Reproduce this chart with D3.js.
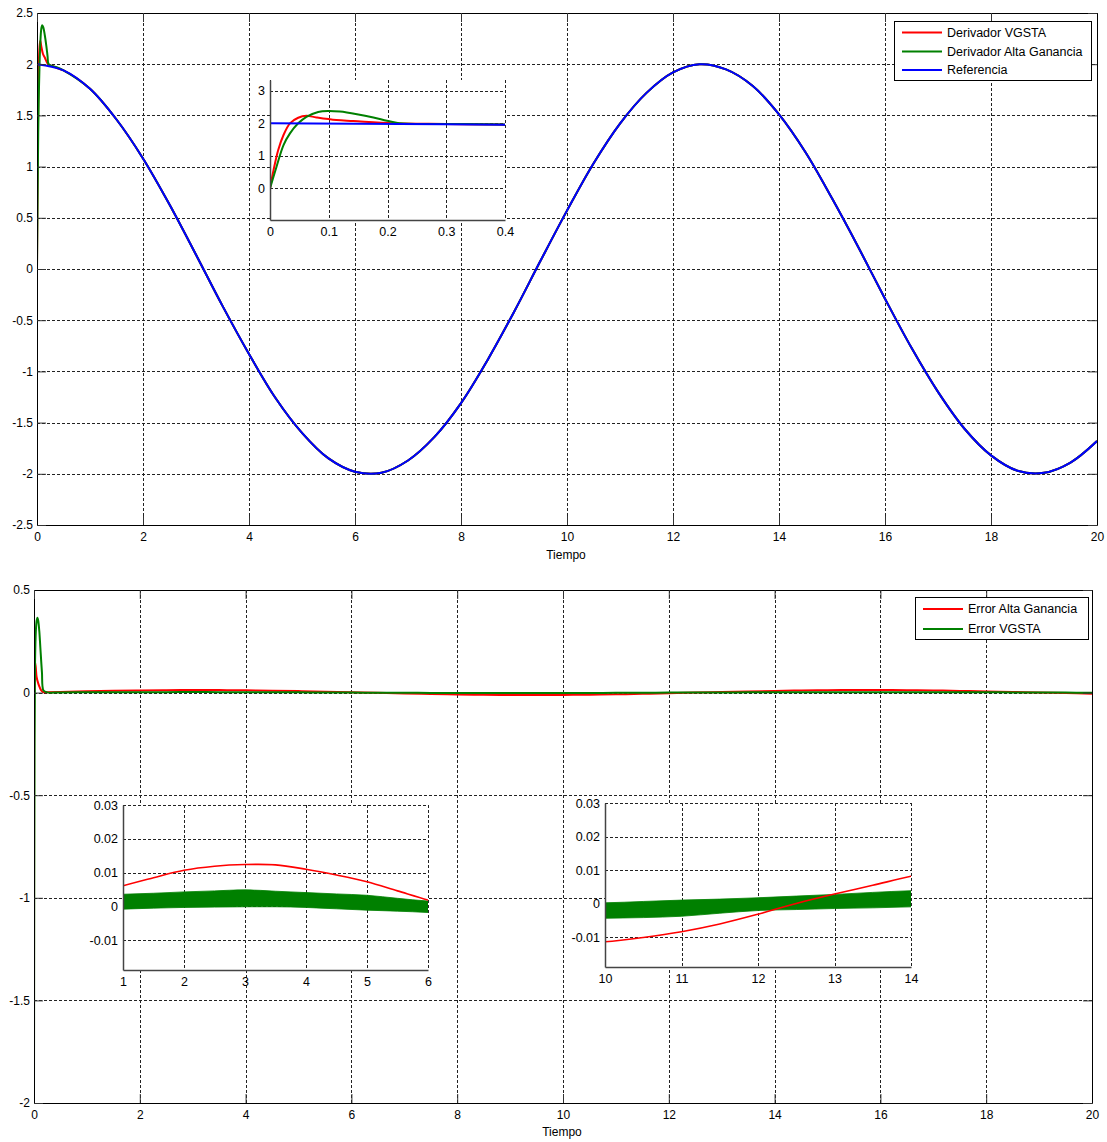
<!DOCTYPE html>
<html>
<head>
<meta charset="utf-8">
<script src="https://cdn.jsdelivr.net/npm/d3@7"></script>
<style>
  body { margin: 0; background: #fff; }
  svg { display: block; font-family: "Liberation Sans", Arial, sans-serif; }
</style>
</head>
<body>
<svg id="chart" width="1107" height="1142"></svg>
<script>
// ---------------- datos ----------------
// senal de referencia, cada 0.5 s
const tRef = d3.range(0, 20.001, 0.5);
const referencia = [2.00, 1.94, 1.76, 1.46, 1.08, 0.63, 0.14, -0.36, -0.83, -1.26, -1.60,
  -1.85, -1.98, -1.99, -1.87, -1.64, -1.31, -0.89, -0.42, 0.08, 0.57, 1.03, 1.42, 1.72,
  1.92, 2.00, 1.95, 1.79, 1.51, 1.14, 0.69, 0.21, -0.29, -0.77, -1.20, -1.56, -1.82,
  -1.97, -1.99, -1.89, -1.68];

// transitorios al inicio (0 - 0.4 s)
const tVgsta = [0, 0.006, 0.014, 0.023, 0.034, 0.048, 0.062, 0.079, 0.113, 0.142, 0.21, 0.3, 0.39];
const vgstaTrans = [0, 0.56, 1.18, 1.64, 2.0, 2.17, 2.23, 2.18, 2.10, 2.07, 2.0, 1.98, 1.96];
const tAlta = [0, 0.011, 0.023, 0.034, 0.048, 0.062, 0.082, 0.099, 0.119, 0.148, 0.176, 0.199, 0.22, 0.3, 0.37];
const altaTrans = [0, 0.66, 1.33, 1.69, 2.0, 2.2, 2.35, 2.38, 2.36, 2.28, 2.18, 2.08, 2.0, 1.98, 1.97];

// errores, cada 0.5 s desde 0.5
const tErr = d3.range(0.5, 20.001, 0.5);
const errAlta = [0.0030, 0.0061, 0.0085, 0.0107, 0.0119, 0.0124, 0.0123, 0.0110, 0.0093, 0.0073,
  0.0046, 0.0019, -0.0010, -0.0040, -0.0066, -0.0088, -0.0105, -0.0116, -0.0118, -0.0113,
  -0.0100, -0.0083, -0.0060, -0.0031, 0.0001, 0.0029, 0.0055, 0.0082, 0.0102, 0.0116,
  0.0123, 0.0124, 0.0117, 0.0103, 0.0083, 0.0058, 0.0031, 0.0004, -0.0024, -0.0050];
const errVgsta = [0.0010, 0.0014, 0.0017, 0.0020, 0.0022, 0.0024, 0.0022, 0.0019, 0.0015, 0.0011,
  0.0005, -0.0001, -0.0006, -0.0011, -0.0015, -0.0018, -0.0020, -0.0021, -0.0021, -0.0020,
  -0.0017, -0.0013, -0.0007, -0.0001, 0.0003, 0.0007, 0.0011, 0.0015, 0.0018, 0.0020,
  0.0022, 0.0023, 0.0022, 0.0020, 0.0017, 0.0013, 0.0009, 0.0004, -0.0001, -0.0006];
// media amplitud del chattering
const bandaVgsta = [0.0021, 0.0022, 0.0022, 0.0023, 0.0024, 0.0025, 0.0023, 0.0022, 0.0022, 0.0022,
  0.0019, 0.0017, 0.0019, 0.0021, 0.0022, 0.0022, 0.0023, 0.0023, 0.0023, 0.0023,
  0.0024, 0.0024, 0.0021, 0.0019, 0.0020, 0.0021, 0.0023, 0.0024, 0.0023, 0.0022,
  0.0022, 0.0022, 0.0022, 0.0022, 0.0022, 0.0022, 0.0022, 0.0022, 0.0022, 0.0022];

const tErrAltaTrans = [0, 0.002, 0.005, 0.01, 0.03, 0.05, 0.08, 0.11, 0.14, 0.18, 0.25];
const errAltaTrans = [-2, -0.6, 0.1, 0.155, 0.13, 0.075, 0.045, 0.024, 0.01, 0.002, 0.002];
const tErrVgstaTrans = [0, 0.004, 0.01, 0.02, 0.035, 0.05, 0.065, 0.08, 0.1, 0.12, 0.15, 0.18, 0.25];
const errVgstaTrans = [-2, -1.0, -0.3, 0.15, 0.3, 0.35, 0.365, 0.35, 0.3, 0.22, 0.1, 0.01, 0.001];

// ticks
const xTicksMain = d3.range(0, 20.001, 2);
const xLabelsMain = xTicksMain.map(String);
const yTicksTop = [-2.5, -2, -1.5, -1, -0.5, 0, 0.5, 1, 1.5, 2, 2.5];
const yLabelsTop = ["-2.5", "-2", "-1.5", "-1", "-0.5", "0", "0.5", "1", "1.5", "2", "2.5"];
const yTicksBot = [-2, -1.5, -1, -0.5, 0, 0.5];
const yLabelsBot = ["-2", "-1.5", "-1", "-0.5", "0", "0.5"];
const xTicksIns = [0, 0.1, 0.2, 0.3, 0.4];
const xLabelsIns = ["0", "0.1", "0.2", "0.3", "0.4"];
const yTicksIns = [0, 1, 2, 3];
const yLabelsIns = ["0", "1", "2", "3"];
const xTicksIns1 = [1, 2, 3, 4, 5, 6];
const xTicksIns2 = [10, 11, 12, 13, 14];
const yTicksErr = [-0.01, 0, 0.01, 0.02, 0.03];
const yLabelsErr = ["-0.01", "0", "0.01", "0.02", "0.03"];

const ROJO = "#ff0000", VERDE = "#008000", AZUL = "#0000ff";

// ---------------- helpers ----------------
const svg = d3.select("#chart");
let nClip = 0;
const curva = d3.curveCatmullRom.alpha(0.5);

function zipT(t, v) { return t.map((d, i) => [d, v[i]]); }

function ejes(o) {
  const x = d3.scaleLinear().domain(o.xDomain).range([o.left, o.right]);
  const y = d3.scaleLinear().domain(o.yDomain).range([o.bottom, o.top]);
  const g = svg.append("g");
  const w = o.right - o.left, h = o.bottom - o.top;
  g.append("rect").attr("x", o.left).attr("y", o.top).attr("width", w).attr("height", h)
    .attr("fill", "#fff");
  const id = "clip" + (nClip++);
  g.append("clipPath").attr("id", id).append("rect")
    .attr("x", o.left).attr("y", o.top).attr("width", w).attr("height", h);

  // grid punteado
  const grid = g.append("g").attr("stroke", "#222").attr("stroke-width", 1)
    .attr("stroke-dasharray", "3,2").attr("shape-rendering", "crispEdges");
  grid.selectAll(".gx").data(o.xTicks).join("line").attr("class", "gx")
    .attr("x1", d => Math.round(x(d)) + 0.5).attr("x2", d => Math.round(x(d)) + 0.5)
    .attr("y1", o.top).attr("y2", o.bottom);
  grid.selectAll(".gy").data(o.yTicks).join("line").attr("class", "gy")
    .attr("y1", d => Math.round(y(d)) + 0.5).attr("y2", d => Math.round(y(d)) + 0.5)
    .attr("x1", o.left).attr("x2", o.right);

  const plot = g.append("g").attr("clip-path", `url(#${id})`);
  const axes = g.append("g");
  const tl = o.tickLen;
  const fs = o.fontSize;

  const ax = d3.axisBottom(x).tickValues(o.xTicks).tickFormat((d, i) => o.xLabels[i])
    .tickSizeInner(-tl).tickSizeOuter(0).tickPadding(o.xPad);
  const ay = d3.axisLeft(y).tickValues(o.yTicks).tickFormat((d, i) => o.yLabels[i])
    .tickSizeInner(-tl).tickSizeOuter(0).tickPadding(o.yPad);
  axes.append("g").attr("transform", `translate(0,${o.bottom})`).call(ax);
  axes.append("g").attr("transform", `translate(${o.left},0)`).call(ay);
  if (o.box) {
    axes.append("g").attr("transform", `translate(0,${o.top})`)
      .call(d3.axisTop(x).tickValues(o.xTicks).tickFormat("").tickSizeInner(-tl).tickSizeOuter(0));
    axes.append("g").attr("transform", `translate(${o.right},0)`)
      .call(d3.axisRight(y).tickValues(o.yTicks).tickFormat("").tickSizeInner(-tl).tickSizeOuter(0));
  }
  axes.selectAll(".domain").attr("stroke", o.axisColor).attr("stroke-width", o.axisWidth);
  axes.selectAll(".tick line").attr("stroke", "#333");
  axes.selectAll(".tick text").attr("fill", "#000").attr("font-size", fs)
    .attr("font-family", "Liberation Sans, Arial, sans-serif");
  return { x, y, plot };
}

function linea(a, data, color, width) {
  a.plot.append("path").datum(data)
    .attr("fill", "none").attr("stroke", color).attr("stroke-width", width)
    .attr("stroke-linejoin", "round")
    .attr("d", d3.line().x(d => a.x(d[0])).y(d => a.y(d[1])).curve(curva));
}

function banda(a, color) {
  const data = tErr.map((t, i) => [t, errVgsta[i] - bandaVgsta[i], errVgsta[i] + bandaVgsta[i]]);
  a.plot.append("path").datum(data)
    .attr("fill", color).attr("stroke", color).attr("stroke-width", 0.8)
    .attr("d", d3.area().x(d => a.x(d[0])).y0(d => a.y(d[1])).y1(d => a.y(d[2])).curve(d3.curveMonotoneX));
}

function leyenda(x0, y0, w, h, items, rowY) {
  const g = svg.append("g");
  g.append("rect").attr("x", x0 + 0.5).attr("y", y0 + 0.5).attr("width", w).attr("height", h)
    .attr("fill", "#fff").attr("stroke", "#000").attr("stroke-width", 1);
  const it = g.selectAll(".it").data(items).join("g").attr("class", "it")
    .attr("transform", (d, i) => `translate(${x0 + 8},${y0 + rowY[i]})`);
  it.append("line").attr("x1", 0).attr("x2", 40).attr("stroke", d => d.color).attr("stroke-width", 2);
  it.append("text").attr("x", 45).attr("dy", "0.35em").attr("font-size", 12.5)
    .text(d => d.label);
}

// series completas
const serieRef = zipT(tRef, referencia);
const serieVgsta = zipT(tVgsta, vgstaTrans).concat(serieRef.slice(1));
const serieAlta = zipT(tAlta, altaTrans).concat(serieRef.slice(1));
const serieErrAlta = zipT(tErrAltaTrans, errAltaTrans).concat(zipT(tErr, errAlta));
const serieErrVgsta = zipT(tErrVgstaTrans, errVgstaTrans).concat(zipT(tErr, errVgsta));

// ---------------- grafico superior ----------------
const panelSup = ejes({
  left: 37, right: 1097, top: 13, bottom: 525,
  xDomain: [0, 20], yDomain: [-2.5, 2.5],
  xTicks: xTicksMain, xLabels: xLabelsMain, yTicks: yTicksTop, yLabels: yLabelsTop,
  box: true, tickLen: 9, fontSize: 12, xPad: 7, yPad: 4, axisColor: "#000", axisWidth: 1
});
linea(panelSup, serieVgsta, ROJO, 2);
linea(panelSup, serieAlta, VERDE, 2);
linea(panelSup, serieRef, AZUL, 2);
svg.append("text").attr("x", 566).attr("y", 559).attr("text-anchor", "middle")
  .attr("font-size", 12).text("Tiempo");

const insSup = ejes({
  left: 270, right: 505, top: 80, bottom: 220,
  xDomain: [0, 0.4], yDomain: [-0.97, 3.33],
  xTicks: xTicksIns, xLabels: xLabelsIns, yTicks: yTicksIns, yLabels: yLabelsIns,
  box: false, tickLen: 0, fontSize: 12.5, xPad: 7, yPad: 5, axisColor: "#444", axisWidth: 1.5
});
linea(insSup, serieVgsta, ROJO, 2);
linea(insSup, serieAlta, VERDE, 2);
linea(insSup, serieRef, AZUL, 2);

leyenda(894, 21, 197, 59, [
  { label: "Derivador VGSTA", color: ROJO },
  { label: "Derivador Alta Ganancia", color: VERDE },
  { label: "Referencia", color: AZUL }
], [11.5, 30.5, 49]);

// ---------------- grafico inferior ----------------
const panelInf = ejes({
  left: 34, right: 1092, top: 590, bottom: 1103,
  xDomain: [0, 20], yDomain: [-2, 0.5],
  xTicks: xTicksMain, xLabels: xLabelsMain, yTicks: yTicksBot, yLabels: yLabelsBot,
  box: true, tickLen: 9, fontSize: 12, xPad: 7, yPad: 4, axisColor: "#000", axisWidth: 1
});
linea(panelInf, serieErrAlta, ROJO, 2);
linea(panelInf, serieErrVgsta, VERDE, 2);
svg.append("text").attr("x", 562).attr("y", 1136).attr("text-anchor", "middle")
  .attr("font-size", 12).text("Tiempo");

const ins1 = ejes({
  left: 123, right: 428, top: 805, bottom: 970,
  xDomain: [1, 6], yDomain: [-0.0188, 0.03],
  xTicks: xTicksIns1, xLabels: xTicksIns1.map(String), yTicks: yTicksErr, yLabels: yLabelsErr,
  box: false, tickLen: 0, fontSize: 12.5, xPad: 7, yPad: 5, axisColor: "#444", axisWidth: 1.5
});
banda(ins1, VERDE);
linea(ins1, zipT(tErr, errAlta), ROJO, 1.6);

const ins2 = ejes({
  left: 605, right: 911, top: 803, bottom: 967,
  xDomain: [10, 14], yDomain: [-0.0188, 0.03],
  xTicks: xTicksIns2, xLabels: xTicksIns2.map(String), yTicks: yTicksErr, yLabels: yLabelsErr,
  box: false, tickLen: 0, fontSize: 12.5, xPad: 7, yPad: 5, axisColor: "#444", axisWidth: 1.5
});
banda(ins2, VERDE);
linea(ins2, zipT(tErr, errAlta), ROJO, 1.6);

leyenda(915, 597, 173, 42, [
  { label: "Error Alta Ganancia", color: ROJO },
  { label: "Error VGSTA", color: VERDE }
], [12, 32]);
</script>
</body>
</html>
